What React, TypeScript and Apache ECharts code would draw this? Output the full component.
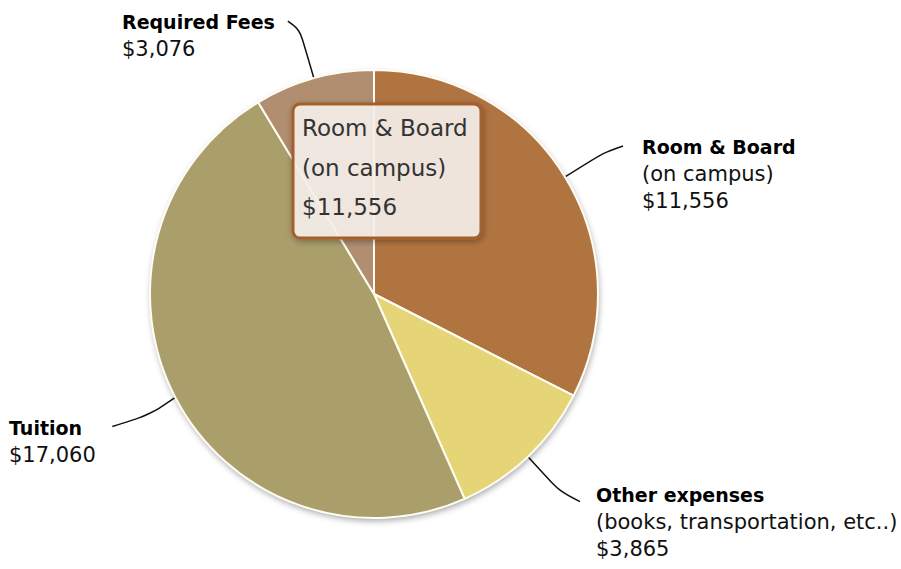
import React, { useEffect, useRef } from "react";
import * as echarts from "echarts";

const categories = ["Room & Board", "Other expenses", "Tuition", "Required Fees"];
const subtitles = ["(on campus)", "(books, transportation, etc..)", "", ""];
const values = [11556, 3865, 17060, 3076];
const colors = ["#b07441", "#e5d577", "#aa9f6b", "#b08e6f"];
const tooltipIndex = 0;

const FONT = "DejaVu Sans";
const LINE_H = 27;

// label block top-left and leader line knee/end offsets (relative to slice edge point)
const LABEL_LAYOUT = [
  { x: 642, y: 147, knee: [38, -24], end: [58, -31] },
  { x: 596, y: 495, knee: [32, 35], end: [52, 45] },
  { x: 9, y: 428, knee: [-25, 17], end: [-63, 29] },
  { x: 122, y: 22, knee: [-14, -48], end: [-26, -57] },
];

const fmt = (v: number) => "$" + v.toLocaleString("en-US");

export default function App() {
  const ref = useRef<HTMLDivElement>(null);
  useEffect(() => {
    if (!ref.current) return;
    const chart = echarts.init(ref.current, null, { renderer: "svg" });
    const total = values.reduce((a, b) => a + b, 0);
    const ti = tooltipIndex;
    const tipLines = [categories[ti], subtitles[ti], fmt(values[ti])].filter((s) => s);
    chart.setOption({
      animation: false,
      backgroundColor: "#ffffff",
      series: [
        {
          type: "pie",
          silent: true,
          center: [374, 294],
          radius: 224,
          label: { show: false },
          labelLine: { show: false },
          itemStyle: {
            color: "#ffffff",
            shadowBlur: 6,
            shadowOffsetX: 1,
            shadowOffsetY: 3,
            shadowColor: "rgba(0,0,0,0.35)",
          },
          emphasis: { disabled: true },
          data: [{ value: total, name: "total" }],
        },
        {
          type: "pie",
          center: [374, 294],
          radius: 224,
          startAngle: 90,
          clockwise: true,
          avoidLabelOverlap: false,
          emphasis: { disabled: true },
          itemStyle: { borderColor: "#fffdf4", borderWidth: 2 },
          label: {
            show: true,
            position: "outside",
            formatter: (p: any) => {
              const i = p.dataIndex;
              const lines = [`{b|${categories[i]}}`];
              if (subtitles[i]) lines.push(`{s|${subtitles[i]}}`);
              lines.push(`{s|${fmt(values[i])}}`);
              return lines.join("\n");
            },
            rich: {
              b: { fontFamily: FONT, fontSize: 19, fontWeight: "bold", color: "#000", lineHeight: LINE_H, align: "left" },
              s: { fontFamily: FONT, fontSize: 21, color: "#111", lineHeight: LINE_H, align: "left" },
            },
          },
          labelLine: {
            show: true,
            smooth: 0.3,
            lineStyle: { color: "#111", width: 1.5 },
          },
          labelLayout: (params: any) => {
            const i = params.dataIndex;
            const L = LABEL_LAYOUT[i];
            const p0 = params.labelLinePoints ? params.labelLinePoints[0] : [0, 0];
            return {
              x: L.x,
              y: L.y - LINE_H / 2,
              align: "left",
              verticalAlign: "top",
              labelLinePoints: [
                [p0[0], p0[1]],
                [p0[0] + L.knee[0], p0[1] + L.knee[1]],
                [p0[0] + L.end[0], p0[1] + L.end[1]],
              ],
            };
          },
          data: categories.map((c, i) => ({
            name: c,
            value: values[i],
            itemStyle: { color: colors[i] },
          })),
        },
      ],
      graphic: [
        {
          type: "rect",
          z: 100,
          shape: { x: 293, y: 104, width: 188, height: 134, r: 7 },
          style: {
            fill: "rgba(248,243,238,0.88)",
            stroke: "#a3602b",
            lineWidth: 3,
            shadowBlur: 6,
            shadowOffsetX: 1,
            shadowOffsetY: 2,
            shadowColor: "rgba(0,0,0,0.35)",
          },
        },
        ...tipLines.map((t, k) => ({
          type: "text",
          z: 101,
          x: 302,
          y: 128 + k * 39.5,
          style: {
            text: t,
            fontFamily: FONT,
            fontSize: 23,
            fill: "#333333",
            verticalAlign: "middle",
            align: "left",
          },
        })),
      ],
    });
    return () => chart.dispose();
  }, []);
  return (
    <div
      ref={ref}
      style={{ position: "fixed", left: 0, top: 0, width: 901, height: 569, background: "#fff" }}
    />
  );
}
